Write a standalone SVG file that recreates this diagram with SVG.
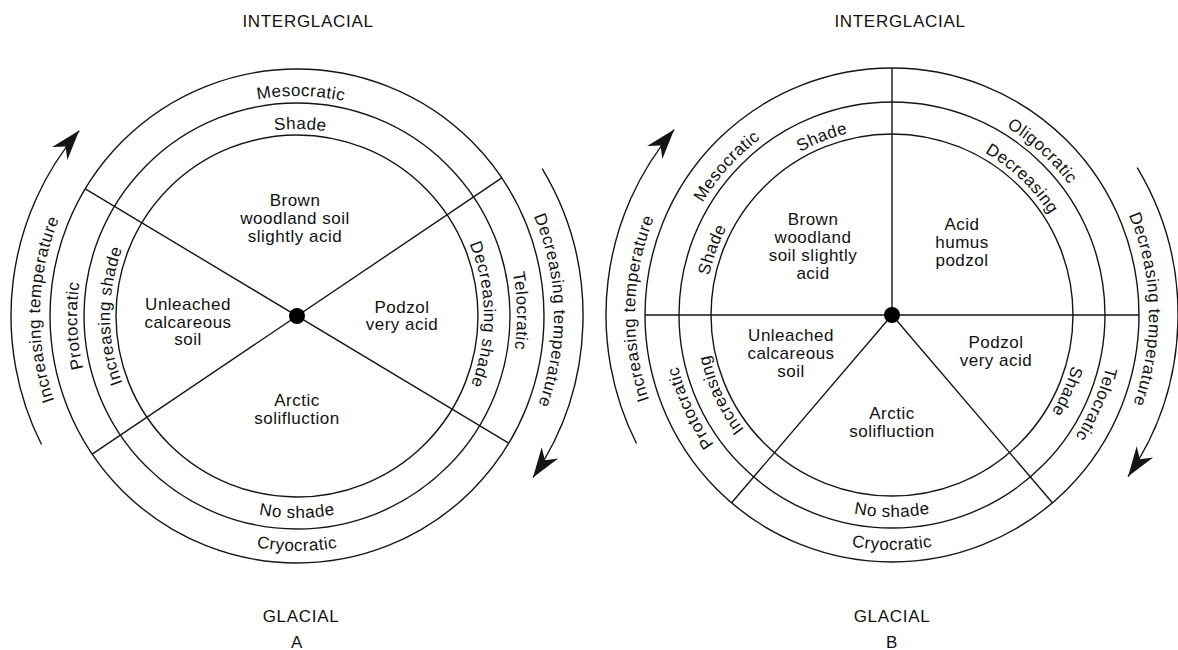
<svg xmlns="http://www.w3.org/2000/svg" width="1178" height="650" viewBox="0 0 1178 650">
<style>
.ring{fill:none;stroke:#151515;stroke-width:1.4}
.ln{stroke:#151515;stroke-width:1.4;fill:none}
.arr{fill:none;stroke:#151515;stroke-width:1.4;marker-end:url(#ah)}
.dot{fill:#000}
text{font-family:"Liberation Sans",Arial,Helvetica,sans-serif;font-size:17px;fill:#111;letter-spacing:0.5px}
.c{text-anchor:middle}
.cap{letter-spacing:0.7px}
</style>
<defs>
<marker id="ah" markerUnits="userSpaceOnUse" orient="auto" viewBox="-35 -15 40 30" refX="0" refY="0" markerWidth="40" markerHeight="30">
<path d="M0,0 L-30,-10 L-21,0 L-30,10 Z" fill="#151515"/>
</marker>
<path id="cw187" d="M-184.16,-32.47 A187,187 0 0 1 184.16,-32.47"/>
<path id="cw220" d="M-216.66,-38.20 A220,220 0 0 1 216.66,-38.20"/>
<path id="cw257" d="M-253.10,-44.63 A257,257 0 0 1 253.10,-44.63"/>
<path id="ccw202" d="M-198.93,35.08 A202,202 0 0 0 198.93,35.08"/>
<path id="ccw235" d="M-231.43,40.81 A235,235 0 0 0 231.43,40.81"/>
</defs>

<!-- ===================== DIAGRAM A ===================== -->
<g id="diagram-a">
  <g id="a-rings">
    <circle class="ring" cx="297" cy="316" r="181"/>
    <circle class="ring" cx="297" cy="316" r="213"/>
    <circle class="ring" cx="297" cy="316" r="247"/>
  </g>
  <g id="a-connectors">
    <line class="ln" x1="85.3" y1="188.8" x2="508.7" y2="443.2"/>
    <line class="ln" x1="501.8" y1="177.9" x2="92.2" y2="454.1"/>
    <path class="arr" d="M41.5,444.5 A286,286 0 0 1 79.2,130.6"/>
    <path class="arr" d="M542.2,168.7 A286,286 0 0 1 533.0,477.6"/>
  </g>
  <circle id="a-centre" class="dot" cx="297" cy="316" r="8"/>

  <g id="a-interglacial-sector">
    <text class="c"><tspan x="295" y="206">Brown</tspan><tspan x="295" y="224">woodland soil</tspan><tspan x="295" y="242">slightly acid</tspan></text>
    <g transform="translate(297 316) rotate(1)"><text class="c"><textPath href="#cw187" startOffset="50%">Shade</textPath></text></g>
    <g transform="translate(297 316) rotate(1)"><text class="c"><textPath href="#cw220" startOffset="50%">Mesocratic</textPath></text></g>
  </g>
  <g id="a-rising-sector">
    <text class="c"><tspan x="188" y="310">Unleached</tspan><tspan x="188" y="328">calcareous</tspan><tspan x="188" y="345">soil</tspan></text>
    <g transform="translate(297 316) rotate(-90)"><text class="c"><textPath href="#cw187" startOffset="50%">Increasing shade</textPath></text></g>
    <g transform="translate(297 316) rotate(-92.5)"><text class="c"><textPath href="#cw220" startOffset="50%">Protocratic</textPath></text></g>
  </g>
  <g id="a-falling-sector">
    <text class="c"><tspan x="402" y="313">Podzol</tspan><tspan x="402" y="330">very acid</tspan></text>
    <g transform="translate(297 316) rotate(89.5)"><text class="c"><textPath href="#cw187" startOffset="50%">Decreasing shade</textPath></text></g>
    <g transform="translate(297 316) rotate(88.7)"><text class="c"><textPath href="#cw220" startOffset="50%">Telocratic</textPath></text></g>
  </g>
  <g id="a-glacial-sector">
    <text class="c"><tspan x="297" y="406">Arctic</tspan><tspan x="297" y="424">solifluction</tspan></text>
    <g transform="translate(297 316)"><text class="c"><textPath href="#ccw202" startOffset="50%">No shade</textPath></text></g>
    <g transform="translate(297 316)"><text class="c"><textPath href="#ccw235" startOffset="50%">Cryocratic</textPath></text></g>
  </g>
  <g id="a-temperature-labels">
    <g transform="translate(297 316) rotate(-88.5)"><text class="c"><textPath href="#cw257" startOffset="50%">Increasing temperature</textPath></text></g>
    <g transform="translate(297 316) rotate(88.7)"><text class="c"><textPath href="#cw257" startOffset="50%">Decreasing temperature</textPath></text></g>
  </g>
  <g id="a-titles">
    <text class="c cap" x="308" y="27">INTERGLACIAL</text>
    <text class="c cap" x="301" y="622">GLACIAL</text>
    <text class="c" x="297" y="648">A</text>
  </g>
</g>

<!-- ===================== DIAGRAM B ===================== -->
<g id="diagram-b">
  <g id="b-rings">
    <circle class="ring" cx="892" cy="315" r="181"/>
    <circle class="ring" cx="892" cy="315" r="213"/>
    <circle class="ring" cx="892" cy="315" r="247"/>
  </g>
  <g id="b-connectors">
    <line class="ln" x1="892" y1="68" x2="892" y2="315"/>
    <line class="ln" x1="645" y1="315" x2="1139" y2="315"/>
    <line class="ln" x1="892" y1="315" x2="731.6" y2="502.8"/>
    <line class="ln" x1="892" y1="315" x2="1052.4" y2="502.8"/>
    <path class="arr" d="M636.5,443.5 A286,286 0 0 1 674.2,129.6"/>
    <path class="arr" d="M1137.2,167.7 A286,286 0 0 1 1128.0,476.6"/>
  </g>
  <circle id="b-centre" class="dot" cx="892" cy="315" r="8"/>

  <g id="b-mesocratic-sector">
    <text class="c"><tspan x="813" y="225">Brown</tspan><tspan x="813" y="243">woodland</tspan><tspan x="813" y="261">soil slightly</tspan><tspan x="813" y="279">acid</tspan></text>
    <g transform="translate(892 315) rotate(-21.5)"><text class="c"><textPath href="#cw187" startOffset="50%">Shade</textPath></text></g>
    <g transform="translate(892 315) rotate(-70)"><text class="c"><textPath href="#cw187" startOffset="50%">Shade</textPath></text></g>
    <g transform="translate(892 315) rotate(-48)"><text class="c"><textPath href="#cw220" startOffset="50%">Mesocratic</textPath></text></g>
  </g>
  <g id="b-oligocratic-sector">
    <text class="c"><tspan x="962" y="230">Acid</tspan><tspan x="962" y="248">humus</tspan><tspan x="962" y="266">podzol</tspan></text>
    <g transform="translate(892 315) rotate(43.7)"><text class="c"><textPath href="#cw187" startOffset="50%">Decreasing</textPath></text></g>
    <g transform="translate(892 315) rotate(42.5)"><text class="c"><textPath href="#cw220" startOffset="50%">Oligocratic</textPath></text></g>
  </g>
  <g id="b-protocratic-sector">
    <text class="c"><tspan x="791" y="341">Unleached</tspan><tspan x="791" y="359">calcareous</tspan><tspan x="791" y="377">soil</tspan></text>
    <g transform="translate(892 315) rotate(-115)"><text class="c"><textPath href="#cw187" startOffset="50%">Increasing</textPath></text></g>
    <g transform="translate(892 315) rotate(-114.7)"><text class="c"><textPath href="#cw220" startOffset="50%">Protocratic</textPath></text></g>
  </g>
  <g id="b-telocratic-sector">
    <text class="c"><tspan x="996" y="348">Podzol</tspan><tspan x="996" y="366">very acid</tspan></text>
    <g transform="translate(892 315) rotate(113.6)"><text class="c"><textPath href="#cw187" startOffset="50%">Shade</textPath></text></g>
    <g transform="translate(892 315) rotate(113.6)"><text class="c"><textPath href="#cw220" startOffset="50%">Telocratic</textPath></text></g>
  </g>
  <g id="b-cryocratic-sector">
    <text class="c"><tspan x="892" y="419">Arctic</tspan><tspan x="892" y="437">solifluction</tspan></text>
    <g transform="translate(892 315)"><text class="c"><textPath href="#ccw202" startOffset="50%">No shade</textPath></text></g>
    <g transform="translate(892 315)"><text class="c"><textPath href="#ccw235" startOffset="50%">Cryocratic</textPath></text></g>
  </g>
  <g id="b-temperature-labels">
    <g transform="translate(892 315) rotate(-88.5)"><text class="c"><textPath href="#cw257" startOffset="50%">Increasing temperature</textPath></text></g>
    <g transform="translate(892 315) rotate(88.7)"><text class="c"><textPath href="#cw257" startOffset="50%">Decreasing temperature</textPath></text></g>
  </g>
  <g id="b-titles">
    <text class="c cap" x="900" y="27">INTERGLACIAL</text>
    <text class="c cap" x="892" y="622">GLACIAL</text>
    <text class="c" x="892" y="648">B</text>
  </g>
</g>
</svg>
